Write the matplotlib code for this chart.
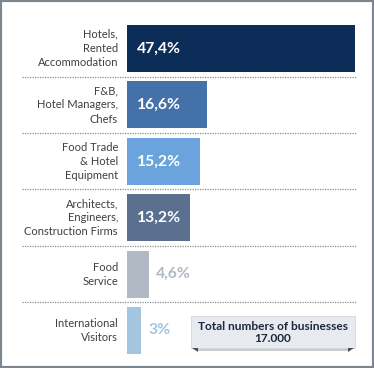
import matplotlib
matplotlib.use("Agg")
import matplotlib.pyplot as plt
from matplotlib.patches import Rectangle, Polygon
from matplotlib.transforms import blended_transform_factory

categories = [
    "Hotels,\nRented\nAccommodation",
    "F&B,\nHotel Managers,\nChefs",
    "Food Trade\n& Hotel\nEquipment",
    "Architects,\nEngineers,\nConstruction Firms",
    "Food\nService",
    "International\nVisitors",
]
shares = [47.4, 16.6, 15.2, 13.2, 4.6, 3.0]
share_labels = ["47,4%", "16,6%", "15,2%", "13,2%", "4,6%", "3%"]
bar_colors = ["#0c2d57", "#4471a7", "#6ba3dc", "#5b6f8e", "#b1b9c5", "#a4c5e0"]
total_text = "Total numbers of businesses\n17.000"

W, H = 374, 368
FONT = "Lato"

fig = plt.figure(figsize=(W / 100, H / 100), dpi=100)
fig.patch.set_facecolor("white")


def fx(px):
    return px / W


def fy(py):
    return 1 - py / H


# outer frame
fig.add_artist(Rectangle((0, 0), 1, 1, transform=fig.transFigure,
                         fill=False, edgecolor="#7d868f", linewidth=3))

ax = fig.add_axes([fx(127), fy(358.7), fx(355) - fx(127), fy(20.3) - fy(358.7)])
ypos = list(range(len(shares)))
ax.barh(ypos, shares, height=0.83, color=bar_colors, left=0)
ax.set_xlim(0, 47.4)
ax.set_ylim(5.5, -0.5)
ax.axis("off")

# value labels
for i, (v, lab, c) in enumerate(zip(shares, share_labels, bar_colors)):
    if v > 10:
        ax.annotate(lab, (0, i), xytext=(7.5, 0), textcoords="offset points",
                    ha="left", va="center", color="white", fontsize=11.3,
                    fontweight="bold", family=FONT)
    else:
        ax.annotate(lab, (v, i), xytext=(5, 0), textcoords="offset points",
                    ha="left", va="center", color=c, fontsize=11.3,
                    fontweight="bold", family=FONT)

# category labels
for i, cat in enumerate(categories):
    ax.annotate(cat, (0, i), xytext=(-6.5, 0), textcoords="offset points",
                ha="right", va="center", color="#3c3f44", fontsize=8,
                linespacing=1.35, family=FONT)

# dotted separators
tr = blended_transform_factory(fig.transFigure, ax.transData)
for s in [0.5, 1.5, 2.5, 3.5, 4.5]:
    ax.plot([fx(22), fx(356)], [s, s], transform=tr, clip_on=False,
            color="#8a8f96", linewidth=0.9, linestyle=(0, (1, 1)))

# total callout box
bx0, bx1, by0, by1 = 191, 355, 316, 348
fig.add_artist(Rectangle((fx(bx0 + 6), fy(by1 + 3)), fx(bx1 - bx0 - 12), fy(by1) - fy(by1 + 3),
                         transform=fig.transFigure, facecolor="#c9cdd2", edgecolor="none"))
fig.add_artist(Rectangle((fx(bx0), fy(by1)), fx(bx1 - bx0), fy(by0) - fy(by1),
                         transform=fig.transFigure, facecolor="#e7eaee",
                         edgecolor="#d3d7dc", linewidth=0.6))
fig.add_artist(Polygon([(fx(bx0 + 1), fy(by1)), (fx(bx0 + 7), fy(by1)), (fx(bx0 + 7), fy(by1 + 4))],
                       closed=True, transform=fig.transFigure, facecolor="#4a4f55", edgecolor="none"))
fig.add_artist(Polygon([(fx(bx1 - 1), fy(by1)), (fx(bx1 - 7), fy(by1)), (fx(bx1 - 7), fy(by1 + 4))],
                       closed=True, transform=fig.transFigure, facecolor="#4a4f55", edgecolor="none"))
fig.text(fx((bx0 + bx1) / 2), fy((by0 + by1) / 2 + 0.5), total_text, ha="center", va="center",
         fontsize=8.6, fontweight="bold", color="#1b2a3f", linespacing=1.2, family=FONT)

fig.savefig("out.png", dpi=100)
